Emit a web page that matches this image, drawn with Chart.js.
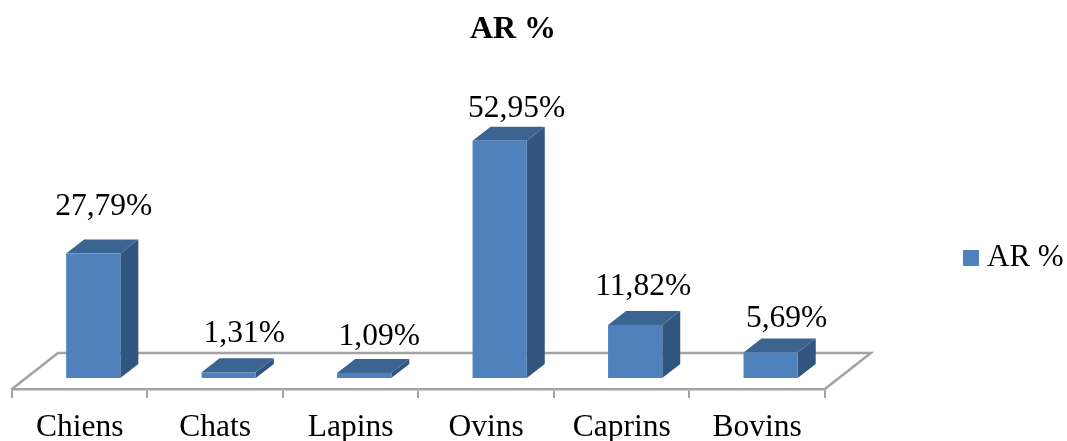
<!DOCTYPE html>
<html>
<head>
<meta charset="utf-8">
<style>html,body{margin:0;padding:0;background:#fff}canvas{display:block}</style>
<script src="https://cdn.jsdelivr.net/npm/chart.js@4"></script>
</head>
<body>
<canvas id="c" width="1067" height="441"></canvas>
<script>
const categories = ['Chiens', 'Chats', 'Lapins', 'Ovins', 'Caprins', 'Bovins'];
const seriesName = 'AR %';
const values = [27.79, 1.31, 1.09, 52.95, 11.82, 5.69];
const labelNudgeX = [10.5, 15.5, 15, 17, 8, 16];
const labelRise = [47, 38, 36, 32, 38, 34];

const FONT = '"Liberation Serif", "Times New Roman", serif';
const FRONT = '#4f81bd', SIDE = '#32557f', TOP = '#3c6490', FLOOR = '#a3a3a3';
const SHIFT_X = 13.5, SHIFT_Y = -11, DEPTH_X = 18, DEPTH_Y = -14, FLOOR_X = 46, FLOOR_Y = -36;

const swatch = document.createElement('canvas');
swatch.width = 16; swatch.height = 16;
const sctx = swatch.getContext('2d');
sctx.fillStyle = FRONT; sctx.fillRect(0, 0, 16, 16);

const depthPlugin = {
  id: 'depth',
  afterLayout(chart) {
    chart.titleBlock.left = 0;
    chart.titleBlock.right = 1026;
    const lg = chart.legend, w = lg.right - lg.left;
    lg.left = 962.5; lg.right = lg.left + w;
    lg.top += 37; lg.bottom += 37;
  },
  beforeDatasetsDraw(chart) {
    const { ctx, chartArea: a } = chart;
    ctx.save();
    ctx.strokeStyle = FLOOR;
    ctx.lineWidth = 2.5;
    ctx.lineJoin = 'miter';
    ctx.beginPath();
    ctx.moveTo(a.left, a.bottom);
    ctx.lineTo(a.left + FLOOR_X, a.bottom + FLOOR_Y);
    ctx.lineTo(a.right + FLOOR_X, a.bottom + FLOOR_Y);
    ctx.lineTo(a.right, a.bottom);
    ctx.stroke();
    ctx.restore();
    ctx.save();
    ctx.translate(SHIFT_X, SHIFT_Y);
    for (const bar of chart.getDatasetMeta(0).data) {
      const l = bar.x - bar.width / 2, r = bar.x + bar.width / 2, t = bar.y, b = bar.base;
      ctx.fillStyle = SIDE;
      ctx.beginPath();
      ctx.moveTo(r, t); ctx.lineTo(r + DEPTH_X, t + DEPTH_Y);
      ctx.lineTo(r + DEPTH_X, b + DEPTH_Y); ctx.lineTo(r, b);
      ctx.closePath(); ctx.fill();
      ctx.fillStyle = TOP;
      ctx.beginPath();
      ctx.moveTo(l, t); ctx.lineTo(l + DEPTH_X, t + DEPTH_Y);
      ctx.lineTo(r + DEPTH_X, t + DEPTH_Y); ctx.lineTo(r, t);
      ctx.closePath(); ctx.fill();
    }
  },
  afterDatasetsDraw(chart) {
    const { ctx } = chart;
    ctx.restore();
    ctx.save();
    ctx.fillStyle = '#000';
    ctx.font = '31.5px ' + FONT;
    ctx.textAlign = 'center';
    ctx.textBaseline = 'middle';
    chart.getDatasetMeta(0).data.forEach((bar, i) => {
      const text = values[i].toFixed(2).replace('.', ',') + '%';
      ctx.fillText(text, bar.x + SHIFT_X + labelNudgeX[i], bar.y + SHIFT_Y - labelRise[i]);
    });
    ctx.restore();
  }
};

new Chart(document.getElementById('c'), {
  type: 'bar',
  data: {
    labels: categories,
    datasets: [{
      label: seriesName,
      data: values,
      backgroundColor: FRONT,
      borderWidth: 0,
      barPercentage: 0.4,
      categoryPercentage: 1,
      clip: false
    }]
  },
  options: {
    responsive: false,
    animation: false,
    layout: { padding: { left: 12, right: 131, top: 0, bottom: 0 } },
    scales: {
      x: {
        afterFit(scale) { scale.height = 52; },
        grid: { drawOnChartArea: false, color: FLOOR, lineWidth: 2, tickLength: 9, offset: true },
        border: { color: FLOOR, width: 2.5 },
        ticks: { color: '#000', font: { family: FONT, size: 31.5 }, padding: 11, maxRotation: 0, autoSkip: false }
      },
      y: { display: false, min: 0, max: 70, beginAtZero: true }
    },
    plugins: {
      tooltip: { enabled: false },
      title: {
        display: true, text: seriesName, color: '#000',
        font: { family: FONT, size: 32, weight: 'bold' },
        padding: { top: 11, bottom: 26 }
      },
      legend: {
        display: true,
        position: 'right',
        labels: {
          color: '#000',
          font: { family: FONT, size: 31 },
          usePointStyle: true,
          pointStyle: swatch,
          pointStyleWidth: 1,
          padding: 8
        }
      }
    }
  },
  plugins: [depthPlugin]
});
</script>
</body>
</html>
